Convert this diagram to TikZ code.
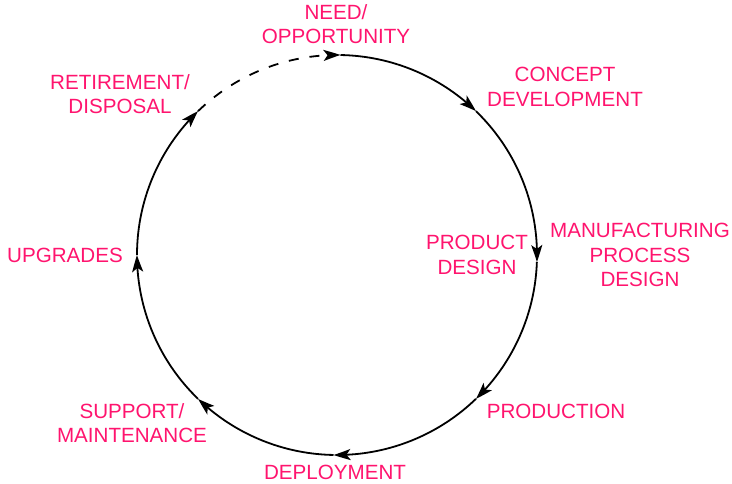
\documentclass[tikz,border=0pt]{standalone}
\usepackage{fontspec}
\setmainfont{Liberation Sans}
\usetikzlibrary{arrows.meta, bending, calc}
\definecolor{lifepink}{RGB}{255,20,110}

\begin{document}
\begin{tikzpicture}[x=1pt, y=1pt, >={Stealth[length=17pt, width=11pt, inset=4pt, bend]},
  stage/.style={text=lifepink, font=\fontsize{20.6}{24.5}\selectfont, align=center, inner sep=0pt},
  cycle/.style={line width=1.8pt, ->}]

\useasboundingbox (0,0) rectangle (732,484);

% --- points on the circle ---
\coordinate (c) at (337,229);
\coordinate (p1) at ($(c)+(89:200)$);
\coordinate (p2) at ($(c)+(46:200)$);
\coordinate (p3) at ($(c)+(-2:200)$);
\coordinate (p4) at ($(c)+(-46:200)$);
\coordinate (p5) at ($(c)+(-91:200)$);
\coordinate (p6) at ($(c)+(-134:200)$);
\coordinate (p7) at ($(c)+(180:200)$);
\coordinate (p8) at ($(c)+(134:200)$);

% --- stages ---
\node[stage] (need) at (336,460) {NEED/\\OPPORTUNITY};
\node[stage] (concept) at (565,397) {CONCEPT\\DEVELOPMENT};
\node[stage] (mfg) at (640,229) {MANUFACTURING\\PROCESS\\DESIGN};
\node[stage] (design) at (477,229) {PRODUCT\\DESIGN};
\node[stage] (prod) at (556,73) {PRODUCTION};
\node[stage] (deploy) at (335,12) {DEPLOYMENT};
\node[stage] (support) at (132,61) {SUPPORT/\\MAINTENANCE};
\node[stage] (upgr) at (65,229) {UPGRADES};
\node[stage] (retire) at (120,390) {RETIREMENT/\\DISPOSAL};

% --- life cycle ---
\draw[cycle] (p1) arc[start angle=89, end angle=46, radius=200];
\draw[cycle] (p2) arc[start angle=46, end angle=-2, radius=200];
\draw[cycle] (p3) arc[start angle=-2, end angle=-46, radius=200];
\draw[cycle] (p4) arc[start angle=-46, end angle=-91, radius=200];
\draw[cycle] (p5) arc[start angle=-91, end angle=-134, radius=200];
\draw[cycle] (p6) arc[start angle=-134, end angle=-180, radius=200];
\draw[cycle] (p7) arc[start angle=180, end angle=134, radius=200];
\draw[cycle, dash pattern=on 10pt off 11pt] (p8) arc[start angle=134, end angle=89, radius=200];

\end{tikzpicture}
\end{document}
